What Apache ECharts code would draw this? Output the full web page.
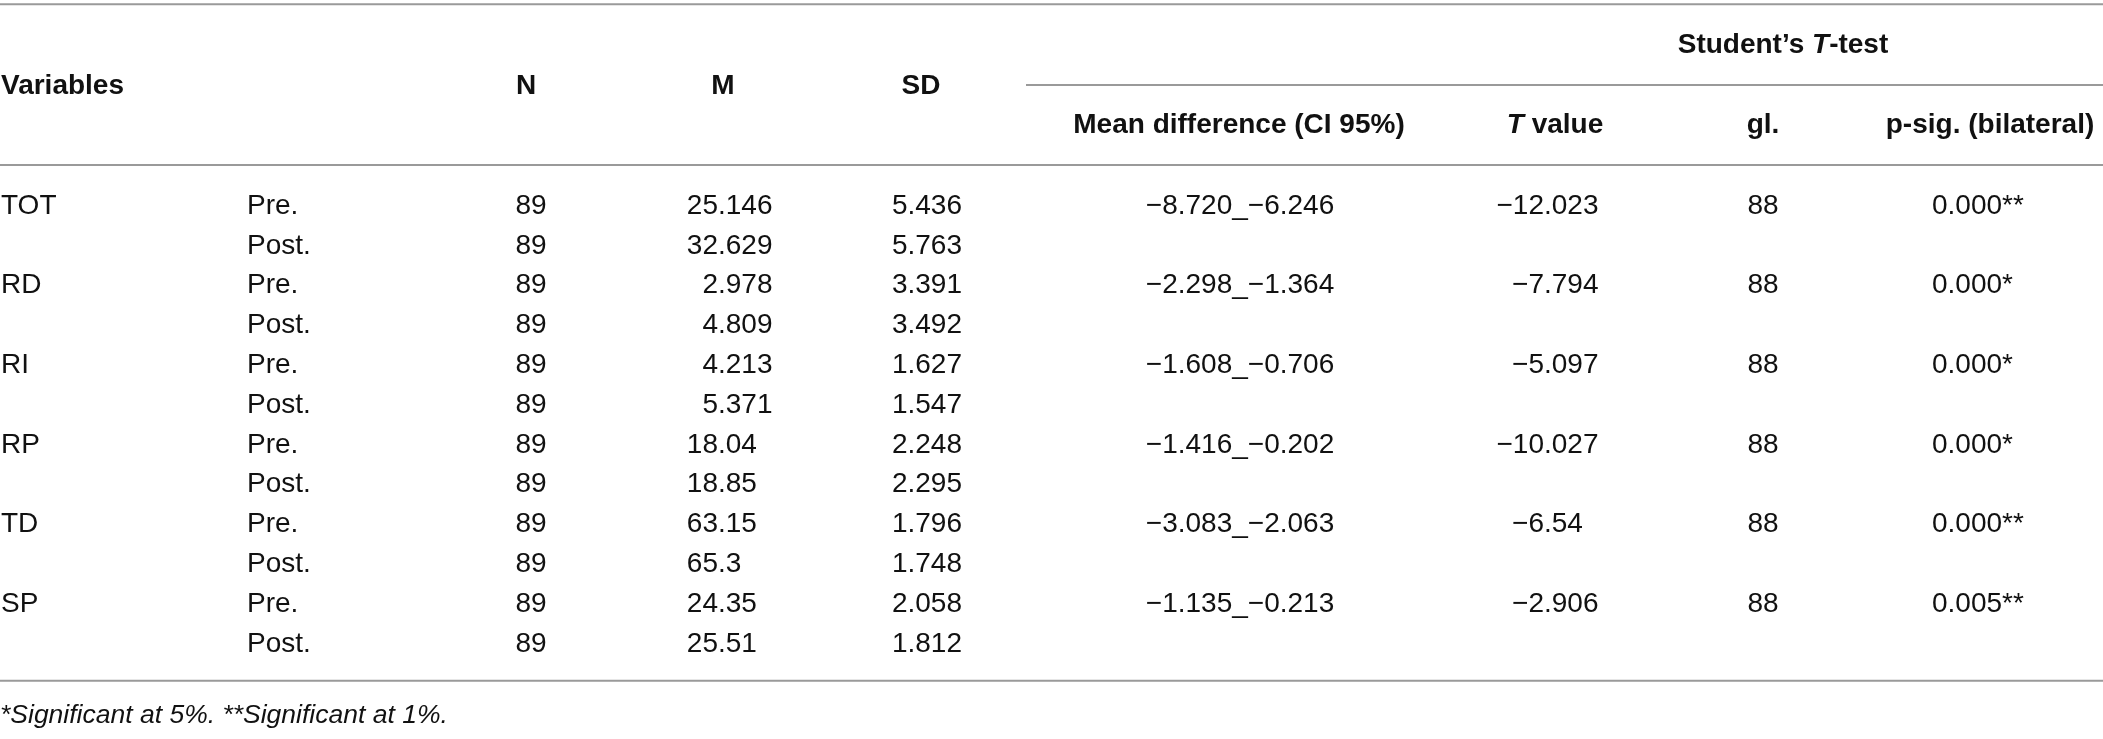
<!DOCTYPE html>
<html>
<head>
<meta charset="utf-8">
<script src="https://cdn.jsdelivr.net/npm/echarts@6/dist/echarts.min.js"></script>
<style>
html,body{margin:0;padding:0;background:#fff;}
#chart{width:2103px;height:739px;}
</style>
</head>
<body>
<div id="chart"></div>
<script>
// ---------------- DATA ----------------
const variables = ['TOT', 'RD', 'RI', 'RP', 'TD', 'SP'];
const phases = ['Pre.', 'Post.'];
const nValues = [89, 89, 89, 89, 89, 89, 89, 89, 89, 89, 89, 89];
const meanValues = [25.146, 32.629, 2.978, 4.809, 4.213, 5.371, 18.04, 18.85, 63.15, 65.3, 24.35, 25.51];
const sdValues = [5.436, 5.763, 3.391, 3.492, 1.627, 1.547, 2.248, 2.295, 1.796, 1.748, 2.058, 1.812];
const ciLow = [-8.720, -2.298, -1.608, -1.416, -3.083, -1.135];
const ciHigh = [-6.246, -1.364, -0.706, -0.202, -2.063, -0.213];
const tValues = [-12.023, -7.794, -5.097, -10.027, -6.54, -2.906];
const glValues = [88, 88, 88, 88, 88, 88];
const pValues = [0.000, 0.000, 0.000, 0.000, 0.000, 0.005];
const pStars = ['**', '*', '*', '*', '**', '**'];
const headerMain = ['Variables', 'N', 'M', 'SD'];
const headerGroup = 'Student\u2019s {bi|T}-test';
const headerSub = ['Mean difference (CI 95%)', '{bi|T} value', 'gl.', 'p-sig. (bilateral)'];
const footnote = '*Significant at 5%. **Significant at 1%.';

// ---------------- LAYOUT (positions / styles) ----------------
const W = 2103;
const ROW_PX = 39.8, ROW0_PX = 206, H = 739;
const Y_MIN = -ROW0_PX / ROW_PX, Y_MAX = Y_MIN + H / ROW_PX;
const COL = { variable: 1, phase: 247, n: 531, mDec: 718, sdRight: 962, ci: 1240, tDec: 1544, gl: 1763, p: 1932 };
const HEAD_MAIN_X = [[1, 'left'], [526, 'center'], [723, 'center'], [921, 'center']];
const HEAD_SUB_X = [1239, 1555, 1763, 1990];
const HEAD_GROUP_X = 1783;
const ROW_GROUP = -4.05, ROW_MAIN = -3.0, ROW_SUB = -2.03, ROW_FOOT = 12.8;
const RULES = [[0, W, -5.07], [1026, W, -3.04], [0, W, -1.03], [0, W, 11.93]];
const FONT = 'Liberation Sans, Arial, Helvetica, sans-serif';
const BODY_SIZE = 28, HEAD_SIZE = 28, FOOT_SIZE = 26.5;
const TEXT_COLOR = '#111';

const fmt = s => String(s).replace('-', '\u2212');

// build cell list
const cells = [];
function add(x, row, text, align, kind) { cells.push({ x, row, text, align, kind: kind || 'body' }); }

headerMain.forEach((h, i) => add(HEAD_MAIN_X[i][0], ROW_MAIN, h, HEAD_MAIN_X[i][1], 'head'));
add(HEAD_GROUP_X, ROW_GROUP, headerGroup, 'center', 'head');
headerSub.forEach((h, i) => add(HEAD_SUB_X[i], ROW_SUB, h, 'center', 'head'));

function decimal(xDec, row, value) {
  const s = fmt(value);
  const k = s.indexOf('.');
  const ip = k < 0 ? s : s.slice(0, k);
  const fp = k < 0 ? '' : s.slice(k);
  add(xDec, row, ip, 'right');
  if (fp) add(xDec, row, fp, 'left');
}

variables.forEach((v, vi) => {
  add(COL.variable, vi * 2, v, 'left');
  phases.forEach((p, pi) => {
    const r = vi * 2 + pi;
    add(COL.phase, r, p, 'left');
    add(COL.n, r, String(nValues[r]), 'center');
    decimal(COL.mDec, r, meanValues[r]);
    add(COL.sdRight, r, sdValues[r].toFixed(3), 'right');
  });
  const r0 = vi * 2;
  add(COL.ci, r0, fmt(ciLow[vi].toFixed(3)) + '_' + fmt(ciHigh[vi].toFixed(3)), 'center');
  decimal(COL.tDec, r0, tValues[vi]);
  add(COL.gl, r0, String(glValues[vi]), 'center');
  add(COL.p, r0, pValues[vi].toFixed(3) + pStars[vi], 'left');
});
add(0, ROW_FOOT, footnote, 'left', 'foot');

const chart = echarts.init(document.getElementById('chart'), null, { renderer: 'canvas' });

const option = {
  backgroundColor: '#fff',
  animation: false,
  grid: { left: 0, right: 0, top: 0, bottom: 0, containLabel: false },
  xAxis: { type: 'value', min: 0, max: W, show: false },
  yAxis: { type: 'value', min: Y_MIN, max: Y_MAX, inverse: true, show: false },
  series: [
    {
      type: 'custom',
      silent: true,
      data: RULES.map(r => [r[0], r[1], r[2]]),
      renderItem: function (params, api) {
        const a = api.coord([api.value(0), api.value(2)]);
        const b = api.coord([api.value(1), api.value(2)]);
        return {
          type: 'line',
          shape: { x1: a[0], y1: a[1], x2: b[0], y2: b[1] },
          style: { stroke: '#9a9a9a', lineWidth: 2 }
        };
      }
    },
    {
      type: 'custom',
      silent: true,
      data: cells.map((c, i) => [c.x, c.row, i]),
      renderItem: function (params, api) {
        const c = cells[api.value(2)];
        const p = api.coord([api.value(0), api.value(1)]);
        const isHead = c.kind === 'head';
        const isFoot = c.kind === 'foot';
        const size = isHead ? HEAD_SIZE : (isFoot ? FOOT_SIZE : BODY_SIZE);
        return {
          type: 'text',
          x: p[0],
          y: p[1],
          style: {
            text: c.text,
            fill: TEXT_COLOR,
            fontFamily: FONT,
            fontSize: size,
            fontWeight: isHead ? 'bold' : 'normal',
            fontStyle: isFoot ? 'italic' : 'normal',
            align: c.align,
            verticalAlign: 'middle',
            textAlign: c.align,
            textVerticalAlign: 'middle',
            rich: {
              bi: { fontFamily: FONT, fontSize: size, fontWeight: 'bold', fontStyle: 'italic', fill: TEXT_COLOR }
            }
          }
        };
      }
    }
  ]
};
chart.setOption(option);
</script>
</body>
</html>
